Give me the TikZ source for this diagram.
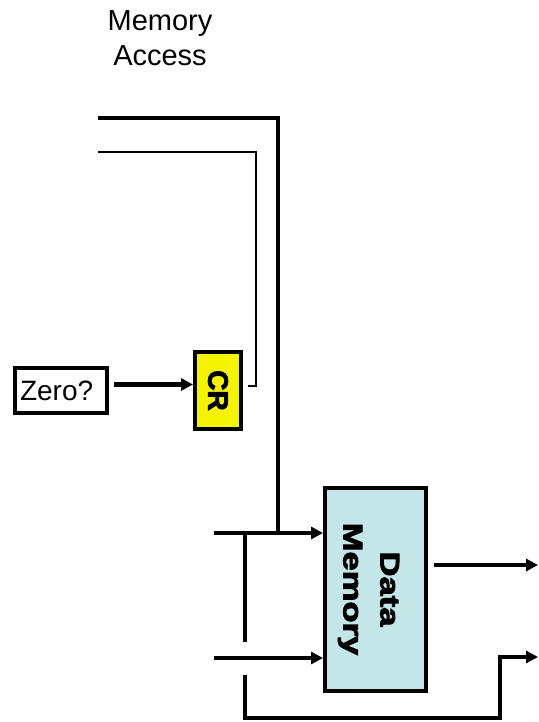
\documentclass[tikz,border=0pt]{standalone}
\usepackage{fontspec}
\setmainfont{Liberation Sans}
\newfontfamily\heavyfont[FakeBold=3]{Liberation Sans Bold}
\usepackage{tikz}
\usetikzlibrary{arrows.meta, positioning, calc}
\definecolor{crfill}{HTML}{F4F400}
\definecolor{memfill}{HTML}{C5E6E9}

\tikzset{
  wire/.style={line width=4.2pt},
  thinwire/.style={line width=2.6pt},
  unit/.style={draw, line width=4pt, inner sep=0pt},
}

\begin{document}
\begin{tikzpicture}[x=1pt, y=-1pt, >={Triangle[length=12pt,width=12pt]}]
  \useasboundingbox (0,0) rectangle (538,722);

  % Nadpis stupne
  \node[align=center, font=\fontsize{29}{35}\selectfont] (title) at (160,38) {Memory\\Access};

  % Bloky
  \node[unit, minimum width=92pt, minimum height=45pt, text width=82pt, inner xsep=5pt,
        align=left, font=\fontsize{28}{32}\selectfont] (zero) at (61,390.5) {Zero?};
  \node[unit, fill=crfill, minimum width=46pt, minimum height=77pt] (cr) at (218,390.5) {};
  \node[rotate=-90, font=\heavyfont\fontsize{28}{32}\selectfont] (crtext) at (cr.center) {CR};
  \node[unit, fill=memfill, minimum width=101pt, minimum height=203pt] (dmem) at (375.5,589) {};
  \node[rotate=-90, xscale=1.28, align=center, font=\heavyfont\fontsize{27}{37}\selectfont]
    (dmemtext) at ([xshift=-7pt]dmem.center) {Data\\Memory};

  % Volne konce vodicu
  \coordinate (topin) at (98,118);
  \coordinate (crin) at (98,152);
  \coordinate (crback) at (256,386);
  \coordinate (tap) at (278,533);
  \coordinate (addrin) at (214,533);
  \coordinate (datain) at (214,658);
  \coordinate (split) at (245,533);
  \coordinate (fwd) at (245,642);
  \coordinate (low) at (245,675);
  \coordinate (lowout) at (538,657);
  \coordinate (memout) at (538,565);

  % Vodice
  \draw[wire] (topin) -| (tap);
  \draw[thinwire] (crin) -| (crback) -- ([xshift=5pt]cr.east |- crback);
  \draw[wire, ->] ([xshift=5pt,yshift=6pt]zero.east) -- ([yshift=6pt]cr.west);
  \draw[wire, ->] (addrin) -- (addrin -| dmem.west);
  \draw[wire, ->] (datain) -- (datain -| dmem.west);
  \draw[wire] (split) -- (fwd);
  \draw[wire, ->] (low) |- ++(255,43) |- (lowout);
  \draw[wire, ->] ([xshift=6pt]dmem.east |- memout) -- (memout);
\end{tikzpicture}
\end{document}
